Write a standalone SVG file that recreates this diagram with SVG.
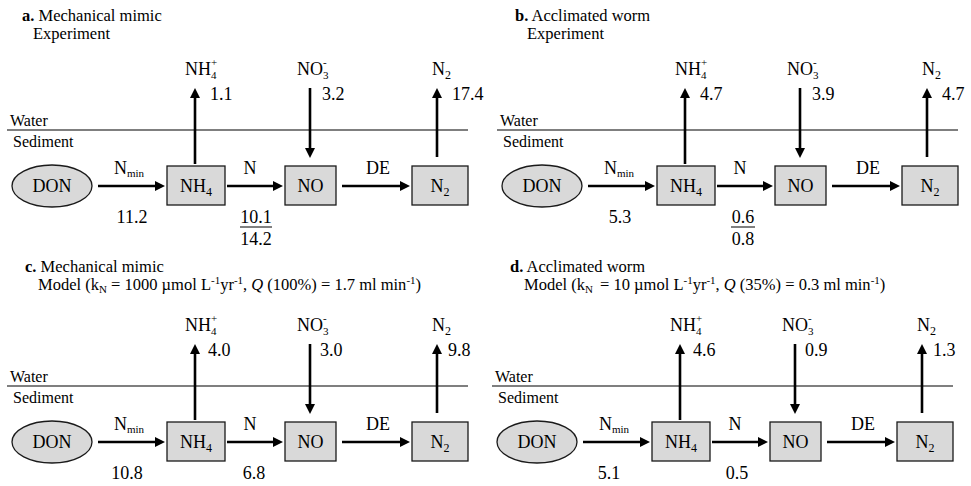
<svg xmlns="http://www.w3.org/2000/svg" width="971" height="486" viewBox="0 0 971 486" font-family="'Liberation Serif', 'DejaVu Serif', serif">
<style>
text { font-family: 'Liberation Serif', 'DejaVu Serif', serif; fill: #000; }
.ttl { font-size: 16.5px; }
.env { font-size: 16px; }
.lbl { font-size: 18px; }
.mid { text-anchor: middle; }
.box { fill: #d9d9d9; stroke: #1a1a1a; stroke-width: 1.3; }
.arr { stroke: #000; stroke-width: 2.6; fill: none; marker-end: url(#ah); }
.surf { stroke: #000; stroke-width: 1.2; }
.ul { stroke: #000; stroke-width: 1; }
</style>
<defs>
<marker id="ah" markerUnits="userSpaceOnUse" markerWidth="11" markerHeight="10" refX="6" refY="5" orient="auto">
<path d="M0,0 L10,5 L0,10 z" fill="#000"/>
</marker>
</defs>
<rect width="971" height="486" fill="#fff"/>

<!-- Panel a -->
<g id="panel-a">
<g id="a-title">
<text class="ttl" x="22" y="21"><tspan font-weight="bold">a.</tspan> Mechanical mimic</text>
<text class="ttl" x="33" y="39">Experiment</text>
</g>
<g id="a-interface">
<line class="surf" x1="7" y1="130" x2="468" y2="130"/>
<text class="env" x="10" y="126">Water</text>
<text class="env" x="13" y="147">Sediment</text>
</g>
<g id="a-DON"><ellipse class="box" cx="52" cy="186" rx="40" ry="21"/><text class="lbl mid" x="52" y="192">DON</text></g>
<g id="a-NH4"><rect class="box" x="167" y="166" width="58" height="39"/><text class="lbl mid" x="196" y="192">NH<tspan dy="4" font-size="12">4</tspan></text></g>
<g id="a-NO"><rect class="box" x="285" y="166" width="51" height="39"/><text class="lbl mid" x="310.5" y="192">NO</text></g>
<g id="a-N2"><rect class="box" x="412" y="166" width="56" height="39"/><text class="lbl mid" x="440" y="192">N<tspan dy="4" font-size="12">2</tspan></text></g>
<g id="a-NH4-water"><text class="lbl" x="185" y="75">NH<tspan dy="4" font-size="11">4</tspan><tspan dx="-5.5" dy="-13" font-size="11">+</tspan></text></g>
<g id="a-NO3-water"><text class="lbl" x="297" y="75">NO<tspan dy="4" font-size="11">3</tspan><tspan dx="-5.5" dy="-13" font-size="11">-</tspan></text></g>
<g id="a-N2-water"><text class="lbl" x="432" y="75">N<tspan dy="4" font-size="12">2</tspan></text></g>
<g id="a-connectors">
<line class="arr" x1="98" y1="186" x2="161" y2="186"/>
<line class="arr" x1="227" y1="186" x2="279" y2="186"/>
<line class="arr" x1="342" y1="186" x2="406" y2="186"/>
<line class="arr" x1="195" y1="164" x2="195" y2="92"/>
<line class="arr" x1="310" y1="88" x2="310" y2="154"/>
<line class="arr" x1="437" y1="157" x2="437" y2="92"/>
<text class="lbl mid" x="129" y="174">N<tspan dy="3" font-size="11">min</tspan></text>
<text class="lbl mid" x="250" y="174">N</text>
<text class="lbl mid" x="378" y="174">DE</text>
<text class="lbl" x="210" y="100">1.1</text>
<text class="lbl" x="322" y="100">3.2</text>
<text class="lbl" x="452" y="100">17.4</text>
<text class="lbl mid" x="132" y="223">11.2</text>
<text class="lbl mid" x="256" y="223">10.1</text>
<line class="ul" x1="240" y1="227" x2="272" y2="227"/>
<text class="lbl mid" x="256" y="245">14.2</text>
</g>
</g>

<!-- Panel b -->
<g id="panel-b" transform="translate(490,0)">
<g id="b-title">
<text class="ttl" x="25" y="21"><tspan font-weight="bold">b.</tspan> Acclimated worm</text>
<text class="ttl" x="37" y="39">Experiment</text>
</g>
<g id="b-interface">
<line class="surf" x1="7" y1="130" x2="468" y2="130"/>
<text class="env" x="10" y="126">Water</text>
<text class="env" x="13" y="147">Sediment</text>
</g>
<g id="b-DON"><ellipse class="box" cx="52" cy="186" rx="40" ry="21"/><text class="lbl mid" x="52" y="192">DON</text></g>
<g id="b-NH4"><rect class="box" x="167" y="166" width="58" height="39"/><text class="lbl mid" x="196" y="192">NH<tspan dy="4" font-size="12">4</tspan></text></g>
<g id="b-NO"><rect class="box" x="285" y="166" width="51" height="39"/><text class="lbl mid" x="310.5" y="192">NO</text></g>
<g id="b-N2"><rect class="box" x="412" y="166" width="56" height="39"/><text class="lbl mid" x="440" y="192">N<tspan dy="4" font-size="12">2</tspan></text></g>
<g id="b-NH4-water"><text class="lbl" x="185" y="75">NH<tspan dy="4" font-size="11">4</tspan><tspan dx="-5.5" dy="-13" font-size="11">+</tspan></text></g>
<g id="b-NO3-water"><text class="lbl" x="297" y="75">NO<tspan dy="4" font-size="11">3</tspan><tspan dx="-5.5" dy="-13" font-size="11">-</tspan></text></g>
<g id="b-N2-water"><text class="lbl" x="432" y="75">N<tspan dy="4" font-size="12">2</tspan></text></g>
<g id="b-connectors">
<line class="arr" x1="98" y1="186" x2="161" y2="186"/>
<line class="arr" x1="227" y1="186" x2="279" y2="186"/>
<line class="arr" x1="342" y1="186" x2="406" y2="186"/>
<line class="arr" x1="195" y1="164" x2="195" y2="92"/>
<line class="arr" x1="310" y1="88" x2="310" y2="154"/>
<line class="arr" x1="437" y1="157" x2="437" y2="92"/>
<text class="lbl mid" x="129" y="174">N<tspan dy="3" font-size="11">min</tspan></text>
<text class="lbl mid" x="250" y="174">N</text>
<text class="lbl mid" x="378" y="174">DE</text>
<text class="lbl" x="210" y="100">4.7</text>
<text class="lbl" x="322" y="100">3.9</text>
<text class="lbl" x="452" y="100">4.7</text>
<text class="lbl mid" x="130" y="223">5.3</text>
<text class="lbl mid" x="253" y="223">0.6</text>
<line class="ul" x1="241" y1="227" x2="265" y2="227"/>
<text class="lbl mid" x="253" y="245">0.8</text>
</g>
</g>

<!-- Panel c -->
<g id="panel-c" transform="translate(0,256)">
<g id="c-title">
<text class="ttl" x="25" y="16"><tspan font-weight="bold">c.</tspan> Mechanical mimic</text>
<text class="ttl" x="38" y="34">Model (k<tspan dy="3" font-size="11">N</tspan><tspan dy="-3"> = 1000 µmol L</tspan><tspan dy="-6" font-size="11">-1</tspan><tspan dy="6">yr</tspan><tspan dy="-6" font-size="11">-1</tspan><tspan dy="6">, </tspan><tspan font-style="italic">Q</tspan> (100%) = 1.7 ml min<tspan dy="-6" font-size="11">-1</tspan><tspan dy="6">)</tspan></text>
</g>
<g id="c-interface">
<line class="surf" x1="7" y1="130" x2="468" y2="130"/>
<text class="env" x="10" y="126">Water</text>
<text class="env" x="13" y="147">Sediment</text>
</g>
<g id="c-DON"><ellipse class="box" cx="52" cy="186" rx="40" ry="21"/><text class="lbl mid" x="52" y="192">DON</text></g>
<g id="c-NH4"><rect class="box" x="167" y="166" width="58" height="39"/><text class="lbl mid" x="196" y="192">NH<tspan dy="4" font-size="12">4</tspan></text></g>
<g id="c-NO"><rect class="box" x="285" y="166" width="51" height="39"/><text class="lbl mid" x="310.5" y="192">NO</text></g>
<g id="c-N2"><rect class="box" x="412" y="166" width="56" height="39"/><text class="lbl mid" x="440" y="192">N<tspan dy="4" font-size="12">2</tspan></text></g>
<g id="c-NH4-water"><text class="lbl" x="185" y="75">NH<tspan dy="4" font-size="11">4</tspan><tspan dx="-5.5" dy="-13" font-size="11">+</tspan></text></g>
<g id="c-NO3-water"><text class="lbl" x="297" y="75">NO<tspan dy="4" font-size="11">3</tspan><tspan dx="-5.5" dy="-13" font-size="11">-</tspan></text></g>
<g id="c-N2-water"><text class="lbl" x="432" y="75">N<tspan dy="4" font-size="12">2</tspan></text></g>
<g id="c-connectors">
<line class="arr" x1="98" y1="186" x2="161" y2="186"/>
<line class="arr" x1="227" y1="186" x2="279" y2="186"/>
<line class="arr" x1="342" y1="186" x2="406" y2="186"/>
<line class="arr" x1="195" y1="164" x2="195" y2="92"/>
<line class="arr" x1="310" y1="88" x2="310" y2="154"/>
<line class="arr" x1="437" y1="157" x2="437" y2="92"/>
<text class="lbl mid" x="129" y="174">N<tspan dy="3" font-size="11">min</tspan></text>
<text class="lbl mid" x="250" y="174">N</text>
<text class="lbl mid" x="378" y="174">DE</text>
<text class="lbl" x="208" y="100">4.0</text>
<text class="lbl" x="320" y="100">3.0</text>
<text class="lbl" x="448" y="100">9.8</text>
<text class="lbl mid" x="127" y="223">10.8</text>
<text class="lbl mid" x="254" y="223">6.8</text>
</g>
</g>

<!-- Panel d -->
<g id="panel-d" transform="translate(485,256)">
<g id="d-title">
<text class="ttl" x="25" y="16"><tspan font-weight="bold">d.</tspan> Acclimated worm</text>
<text class="ttl" x="39" y="34">Model (k<tspan dy="3" font-size="11">N</tspan><tspan dy="-3" dx="3"> = 10 µmol L</tspan><tspan dy="-6" font-size="11">-1</tspan><tspan dy="6">yr</tspan><tspan dy="-6" font-size="11">-1</tspan><tspan dy="6">, </tspan><tspan font-style="italic">Q</tspan> (35%) = 0.3 ml min<tspan dy="-6" font-size="11">-1</tspan><tspan dy="6">)</tspan></text>
</g>
<g id="d-interface">
<line class="surf" x1="7" y1="130" x2="468" y2="130"/>
<text class="env" x="10" y="126">Water</text>
<text class="env" x="13" y="147">Sediment</text>
</g>
<g id="d-DON"><ellipse class="box" cx="52" cy="186" rx="40" ry="21"/><text class="lbl mid" x="52" y="192">DON</text></g>
<g id="d-NH4"><rect class="box" x="167" y="166" width="58" height="39"/><text class="lbl mid" x="196" y="192">NH<tspan dy="4" font-size="12">4</tspan></text></g>
<g id="d-NO"><rect class="box" x="285" y="166" width="51" height="39"/><text class="lbl mid" x="310.5" y="192">NO</text></g>
<g id="d-N2"><rect class="box" x="412" y="166" width="56" height="39"/><text class="lbl mid" x="440" y="192">N<tspan dy="4" font-size="12">2</tspan></text></g>
<g id="d-NH4-water"><text class="lbl" x="185" y="75">NH<tspan dy="4" font-size="11">4</tspan><tspan dx="-5.5" dy="-13" font-size="11">+</tspan></text></g>
<g id="d-NO3-water"><text class="lbl" x="297" y="75">NO<tspan dy="4" font-size="11">3</tspan><tspan dx="-5.5" dy="-13" font-size="11">-</tspan></text></g>
<g id="d-N2-water"><text class="lbl" x="432" y="75">N<tspan dy="4" font-size="12">2</tspan></text></g>
<g id="d-connectors">
<line class="arr" x1="98" y1="186" x2="161" y2="186"/>
<line class="arr" x1="227" y1="186" x2="279" y2="186"/>
<line class="arr" x1="342" y1="186" x2="406" y2="186"/>
<line class="arr" x1="195" y1="164" x2="195" y2="92"/>
<line class="arr" x1="310" y1="88" x2="310" y2="154"/>
<line class="arr" x1="437" y1="157" x2="437" y2="92"/>
<text class="lbl mid" x="129" y="174">N<tspan dy="3" font-size="11">min</tspan></text>
<text class="lbl mid" x="250" y="174">N</text>
<text class="lbl mid" x="378" y="174">DE</text>
<text class="lbl" x="208" y="100">4.6</text>
<text class="lbl" x="320" y="100">0.9</text>
<text class="lbl" x="448" y="100">1.3</text>
<text class="lbl mid" x="124" y="223">5.1</text>
<text class="lbl mid" x="252" y="223">0.5</text>
</g>
</g>
</svg>
